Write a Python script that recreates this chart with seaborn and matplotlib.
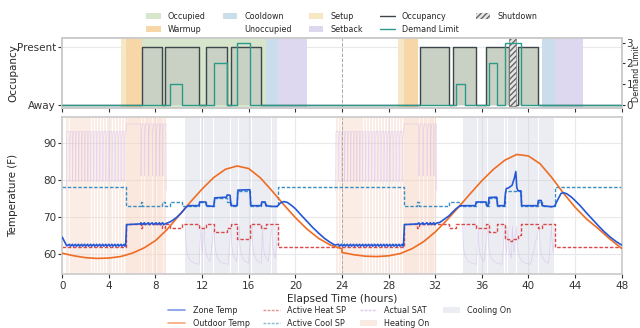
import numpy as np
import pandas as pd
import matplotlib
matplotlib.use("Agg")
import matplotlib.pyplot as plt
import seaborn as sns
from matplotlib.patches import Patch
from matplotlib.lines import Line2D

# ---------------- data ----------------
hour_ticks = [0, 4, 8, 12, 16, 20, 24, 28, 32, 36, 40, 44, 48]
temp_ticks = [60, 70, 80, 90]

outdoor_hours = list(range(0, 25)) + list(range(24, 49))
outdoor_temp = [60.2, 59.5, 59.0, 58.8, 58.9, 59.3, 60.2, 61.6, 63.6, 66.6,
                70.3, 74.0, 77.5, 80.6, 82.8, 83.7, 83.0, 80.5, 77.0, 73.3,
                69.8, 66.7, 64.2, 62.4, 61.4,
                60.4, 59.8, 59.4, 59.3, 59.5, 60.1, 61.4, 63.3, 65.9, 69.1,
                72.6, 76.2, 79.7, 82.8, 85.3, 86.8, 86.4, 84.3, 80.6, 76.4,
                72.6, 69.4, 66.8, 64.0, 61.5]

# heating cycles: times where heating briefly switches off (SAT dips)
heat_dips_1a = [0.62, 0.88, 1.14, 1.40, 1.66, 1.92, 2.18, 2.44, 2.70, 2.96,
                3.22, 3.48, 3.74, 4.00, 4.26, 4.52, 4.78, 5.04, 5.30]
heat_dips_1b = [6.75, 7.05, 7.40, 7.72, 8.05, 8.35, 8.62]
heat_dips_2a = [23.70, 23.96, 24.22, 24.48, 24.74, 25.00, 25.26, 25.52, 25.78,
                26.04, 26.30, 26.56, 26.82, 27.08, 27.34, 27.60, 27.86, 28.12,
                28.38, 28.64, 28.90, 29.16]
heat_dips_2b = [30.60, 30.95, 31.30, 31.60, 31.88]
heat_on_1 = [0.35, 5.46, 8.90]   # start, stage switch, end
heat_on_2 = [23.45, 29.30, 32.10]
heat_gap = 0.07

# cooling cycles
cool_on_1 = [10.55, 18.45]
cool_gaps_1 = [11.80, 12.10, 12.95, 14.40, 15.10, 16.20, 17.10, 17.90]
cool_on_2 = [34.35, 42.20]
cool_gaps_2 = [35.60, 36.45, 37.90, 38.15, 38.55, 38.90, 40.85, 41.90]
cool_gap = 0.08

# supply air temperature levels
sat_heat_top_a, sat_heat_top_b = 93.0, 95.0
sat_heat_low_a, sat_heat_low_b, sat_heat_end = 79.5, 81.0, 77.0
sat_cool_dt = [0.0, 0.03, 0.08, 0.15, 0.30, 0.50, 0.80, 1.20, 2.00]
sat_cool_val = [67.5, 64.5, 62.0, 60.3, 58.9, 58.0, 57.5, 57.2, 57.0]

# zone temperature (sawtooth levels + breakpoints)
zone_low_a, zone_high_a = 62.1, 62.6
zone_low_b, zone_high_b = 67.9, 68.4
zone_start_t = [0.0, 0.2, 0.38]
zone_start_v = [64.5, 63.3, 62.2]
zone_d1_mid_t = [5.44, 5.52, 6.70]
zone_d1_mid_v = [62.4, 67.9, 68.1]
zone_d1_rest_t = [8.90, 9.3, 9.8, 10.2, 10.6, 10.8, 11.72, 11.8, 12.3, 12.38, 13.0,
                  13.08, 14.1, 14.15, 14.4, 14.48, 15.0, 15.08, 16.1, 16.18, 17.07,
                  17.12, 17.4, 17.48, 18.0, 18.45, 18.7, 19.0, 19.3, 19.7, 20.0,
                  20.4, 21.0, 21.5, 22.0, 22.5, 23.0, 23.4]
zone_d1_rest_v = [68.2, 68.7, 69.8, 71.0, 72.5, 73.0, 73.0, 74.0, 74.0, 73.0, 72.8,
                  75.1, 75.3, 75.9, 75.8, 73.0, 73.0, 77.2, 77.3, 73.0, 73.0,
                  74.0, 74.0, 73.0, 72.8, 72.8, 73.7, 74.1, 73.9, 73.0, 72.2,
                  70.8, 68.8, 67.1, 65.6, 64.2, 63.1, 62.4]
zone_d2_mid_t = [29.28, 29.36, 30.50]
zone_d2_mid_v = [62.4, 67.9, 68.1]
zone_d2_rest_t = [32.10, 32.4, 32.8, 33.2, 33.5, 33.8, 34.1, 34.3, 35.45, 35.52,
                  36.35, 36.42, 36.55, 36.62, 37.28, 37.35, 37.95, 38.02, 38.1,
                  38.3, 38.6, 38.8, 38.92, 39.0, 39.1, 39.35, 39.42, 40.8, 40.85,
                  41.1, 41.18, 42.0, 42.25, 42.5, 42.8, 43.0, 43.3, 43.7, 44.0,
                  44.5, 45.0, 45.5, 46.0, 46.5, 47.0, 47.5, 48.0]
zone_d2_rest_v = [68.3, 68.5, 69.4, 70.3, 71.3, 72.2, 72.9, 73.0, 73.0, 74.0,
                  74.0, 73.0, 73.0, 75.2, 75.3, 73.0, 73.0, 76.0, 77.6,
                  77.8, 78.5, 80.5, 82.2, 78.0, 77.0, 77.0, 73.0, 73.0, 74.4,
                  74.4, 73.0, 72.7, 72.9, 74.5, 76.3, 76.5, 76.2, 75.3, 74.4,
                  72.8, 71.0, 69.3, 67.6, 66.0, 64.6, 63.4, 62.4]

heat_sp_t = [0, 5.46, 6.75, 6.86, 8.57, 8.85, 9.27, 10.24, 11.72, 12.35, 13.04,
             14.1, 14.45, 15.03, 16.12, 17.07, 17.5, 18.5, 29.3, 30.45, 30.65,
             33.17, 33.75, 35.5, 36.4, 36.59, 37.28, 37.96, 38.3, 38.6, 39.08,
             39.36, 40.8, 41.2, 42.25, 48]
heat_sp_v = [62, 68, 67, 68, 67, 68, 67, 68, 67, 68, 66,
             67, 68, 64, 68, 67, 68, 62, 68, 67, 68,
             67, 68, 67, 68, 66, 68, 64, 63.5, 64, 65,
             68, 67, 68, 62, 62]
cool_sp_t = [0, 5.46, 6.75, 6.86, 8.57, 8.85, 9.27, 10.24, 11.72, 12.35, 13.04,
             14.1, 14.45, 15.03, 16.12, 17.07, 17.5, 18.5, 29.3, 30.45, 30.65,
             33.17, 34.1, 35.5, 36.4, 36.59, 37.28, 37.96, 39.36, 40.8, 41.2,
             42.25, 48]
cool_sp_v = [78, 73, 74, 73, 74, 73, 74, 73, 74, 73, 75,
             74, 73, 77, 73, 74, 73, 78, 73, 74, 73,
             74, 73, 74, 73, 75, 73, 77, 73, 74, 73,
             78, 78]

# top panel
mode_names = ['Occupied', 'Warmup', 'Cooldown', 'Unoccupied', 'Setup', 'Setback']
mode_colors = ['#d6e5cb', '#f7d6a8', '#c9deea', '#ffffff', '#f6e7c6', '#ddd7f0']
mode_start = [0, 5.03, 5.50, 6.85, 17.50, 18.50, 21.00, 28.77, 29.30, 30.50, 41.20, 42.25, 44.70]
mode_end = [5.03, 5.50, 6.85, 17.50, 18.50, 21.00, 28.77, 29.30, 30.50, 41.20, 42.25, 44.70, 48]
mode_seq = ['Unoccupied', 'Setup', 'Warmup', 'Occupied', 'Cooldown', 'Setback', 'Unoccupied',
            'Setup', 'Warmup', 'Unoccupied', 'Cooldown', 'Setback', 'Unoccupied']
occ_t = [0, 6.86, 8.57, 8.85, 11.72, 12.35, 14.10, 14.45, 17.07, 30.68, 33.17, 33.56,
         35.50, 36.38, 38.30, 39.10, 40.84, 48]
occ_v = [0, 1, 0, 1, 0, 1, 0, 1, 0, 1, 0, 1, 0, 1, 0, 1, 0, 0]
occ_labels = ['Away', 'Present']
dl_t = [0, 9.27, 10.24, 13.04, 14.16, 15.03, 16.12, 33.79, 34.56, 36.59, 37.28, 37.96, 39.36, 48]
dl_v = [0, 1, 0, 2, 0, 3, 0, 1, 0, 2, 0, 3, 0, 0]
dl_ticks = [0, 1, 2, 3]
shutdown = [38.35, 38.95]

# ---------------- build series ----------------
def on_intervals(start, end, gaps, gw):
    iv = []
    s = start
    for g in gaps:
        iv.append((s, g))
        s = g + gw
    iv.append((s, end))
    return iv

zone_t = list(zone_start_t); zone_v = list(zone_start_v)
for g in heat_dips_1a:
    zone_t += [g, g + 0.08]; zone_v += [zone_high_a, zone_low_a]
zone_t += zone_d1_mid_t; zone_v += zone_d1_mid_v
for g in heat_dips_1b:
    zone_t += [g, g + 0.08]; zone_v += [zone_high_b, zone_low_b]
zone_t += zone_d1_rest_t; zone_v += zone_d1_rest_v
for g in heat_dips_2a:
    zone_t += [g, g + 0.08]; zone_v += [zone_high_a, zone_low_a]
zone_t += zone_d2_mid_t; zone_v += zone_d2_mid_v
for g in heat_dips_2b:
    zone_t += [g, g + 0.08]; zone_v += [zone_high_b, zone_low_b]
zone_t += zone_d2_rest_t; zone_v += zone_d2_rest_v

sat_t, sat_v = [], []
def heat_sat(on, dips_a, dips_b):
    s, sw, e = on
    sat_t.extend([s, s + 0.03]); sat_v.extend([sat_heat_end, sat_heat_top_a])
    for g in dips_a:
        sat_t.extend([g, g + 0.015, g + 0.04, g + 0.11])
        sat_v.extend([sat_heat_top_a, sat_heat_low_a, sat_heat_top_a - 2, sat_heat_top_a])
    sat_t.extend([sw, sw + 0.05]); sat_v.extend([sat_heat_top_a, sat_heat_top_b])
    for g in dips_b:
        sat_t.extend([g, g + 0.015, g + 0.04, g + 0.11])
        sat_v.extend([sat_heat_top_b, sat_heat_low_b, sat_heat_top_b - 2, sat_heat_top_b])
    sat_t.extend([e, e + 0.03, np.nan]); sat_v.extend([sat_heat_top_b, sat_heat_end, np.nan])

def cool_sat(intervals):
    for s, e in intervals:
        for dt, v in zip(sat_cool_dt, sat_cool_val):
            if s + dt < e:
                sat_t.append(s + dt); sat_v.append(v)
    sat_t.extend([intervals[-1][1] + 0.04, np.nan]); sat_v.extend([66.5, np.nan])

heat_iv = (on_intervals(heat_on_1[0], heat_on_1[2], heat_dips_1a + heat_dips_1b, heat_gap)
           + on_intervals(heat_on_2[0], heat_on_2[2], heat_dips_2a + heat_dips_2b, heat_gap))
cool_iv_1 = on_intervals(cool_on_1[0], cool_on_1[1], cool_gaps_1, cool_gap)
cool_iv_2 = on_intervals(cool_on_2[0], cool_on_2[1], cool_gaps_2, cool_gap)

heat_sat(heat_on_1, heat_dips_1a, heat_dips_1b)
cool_sat(cool_iv_1)
heat_sat(heat_on_2, heat_dips_2a, heat_dips_2b)
cool_sat(cool_iv_2)

df_out = pd.DataFrame({'t': outdoor_hours, 'v': outdoor_temp})
df_zone = pd.DataFrame({'t': zone_t, 'v': zone_v})

# ---------------- style ----------------
sns.set_theme(style="whitegrid", rc={
    'axes.edgecolor': '#cccccc', 'grid.color': '#e9e9e9', 'grid.linewidth': 0.8,
    'xtick.bottom': True, 'ytick.left': True, 'xtick.major.size': 3, 'ytick.major.size': 3,
    'xtick.major.width': 0.8, 'ytick.major.width': 0.8,
    'xtick.major.pad': 2, 'ytick.major.pad': 1.5,
    'xtick.color': '#333333', 'ytick.color': '#333333',
    'xtick.labelsize': 7.5, 'ytick.labelsize': 7.5, 'axes.labelsize': 7.5,
})
plt.rcParams['font.family'] = ['DejaVu Sans']

c_zone = '#2457d6'
c_out = '#f06c22'
c_heat = '#d9484a'
c_cool = '#3a8ec4'
c_sat = '#c9a3e6'
c_heat_on = '#f6d3c0'
c_cool_on = '#c7cddd'
c_occ_line = '#3d464b'
c_occ_fill = '#c8d1c3'
c_dl = '#2a9a8a'

fig = plt.figure(figsize=(6.4, 3.28), dpi=100)
ax_top = fig.add_axes([0.0973, 0.6698, 0.874, 0.2134])
ax = fig.add_axes([0.0973, 0.1646, 0.874, 0.4777])

# ---- top panel ----
cmap = dict(zip(mode_names, mode_colors))
for s, e, m in zip(mode_start, mode_end, mode_seq):
    if m != 'Unoccupied':
        ax_top.axvspan(s, e, color=cmap[m], lw=0, zorder=0.6)
ax_top.fill_between(occ_t, occ_v, step='post', color=c_occ_fill, lw=0, zorder=1)
ax_top.step(occ_t, occ_v, where='post', color=c_occ_line, lw=1.0, zorder=2)
ax_top.axvline(24, color='#aaaaaa', ls='--', lw=0.7, zorder=1.5)
ax_top.set_xlim(0, 48)
ax_top.set_ylim(-0.05, 1.14)
ax_top.set_yticks([0, 1])
ax_top.set_yticklabels(occ_labels)
ax_top.set_xticks(hour_ticks)
ax_top.set_xticklabels([])
ax_top.grid(False, axis='x')
ax_top.set_ylabel('Occupancy')
ax_top.set_axisbelow(True)

ax_dl = ax_top.twinx()
ax_dl.step(dl_t, dl_v, where='post', color=c_dl, lw=1.0, zorder=3)
ax_dl.axvspan(shutdown[0], shutdown[1], ymin=0.04, ymax=1.0, facecolor='#e4e4e4',
              edgecolor='#666666', hatch='//////', lw=0.4, zorder=2)
ax_dl.set_ylim(-0.14, 3.2)
ax_dl.set_yticks(dl_ticks)
ax_dl.grid(False)
ax_dl.set_ylabel('Demand Limit', fontsize=5.8)
ax_dl.tick_params(axis='y', right=True, length=2.5, pad=1, labelsize=7.5)
ax_dl.yaxis.set_label_coords(1.0 + (632.5 - 621.7) / 559.4, 0.5)
for sp in ax_dl.spines.values():
    sp.set_color('#cccccc')

# ---- bottom panel ----
for s, e in heat_iv:
    ax.axvspan(s, e, color=c_heat_on, alpha=0.4, lw=0, zorder=0.6)
for s, e in [(heat_on_1[1], heat_on_1[2]), (heat_on_2[1], heat_on_2[2])]:
    ax.axvspan(s, e, color=c_heat_on, alpha=0.2, lw=0, zorder=0.6)
for s, e in cool_iv_1 + cool_iv_2:
    ax.axvspan(s, e, color=c_cool_on, alpha=0.35, lw=0, zorder=0.6)

ax.plot(sat_t, sat_v, color=c_sat, lw=0.5, alpha=0.4, zorder=1.5)
ax.step(heat_sp_t, heat_sp_v, where='post', color=c_heat, lw=1.0, ls=(0, (2.5, 1.3)), zorder=2)
ax.step(cool_sp_t, cool_sp_v, where='post', color=c_cool, lw=1.0, ls=(0, (2.5, 1.3)), zorder=2)
sns.lineplot(data=df_out, x='t', y='v', ax=ax, color=c_out, lw=1.2, estimator=None, sort=False, zorder=3)
sns.lineplot(data=df_zone, x='t', y='v', ax=ax, color=c_zone, lw=1.2, estimator=None, sort=False, zorder=4)
ax.axvline(24, color='#aaaaaa', ls='--', lw=0.7, zorder=1.6)

ax.set_xlim(0, 48)
ax.set_ylim(54.6, 96.8)
ax.set_xticks(hour_ticks)
ax.set_yticks(temp_ticks)
ax.set_xlabel('Elapsed Time (hours)', labelpad=2)
ax.set_ylabel('Temperature (F)')
ax.set_axisbelow(True)

lab_x = (18.0 - 62.3) / 559.4
ax_top.yaxis.set_label_coords(lab_x, 0.5)
ax.yaxis.set_label_coords(lab_x, 0.5)

# ---- legends ----
top_handles = [Patch(facecolor=cmap[m], edgecolor='none') for m in mode_names]
top_handles += [Line2D([], [], color=c_occ_line, lw=1.0), Line2D([], [], color=c_dl, lw=1.0),
                Patch(facecolor='#e4e4e4', edgecolor='#666666', hatch='//////', lw=0)]
top_labels = mode_names + ['Occupancy', 'Demand Limit', 'Shutdown']
fig.legend(top_handles, top_labels, loc='center', bbox_to_anchor=(0.534, 0.931), ncol=5,
           frameon=False, fontsize=5.8, handlelength=1.8, handleheight=0.8,
           handletextpad=0.9, columnspacing=2.1, labelspacing=0.5)

bot_handles = [Line2D([], [], color=c_zone, lw=1.2, alpha=0.6),
               Line2D([], [], color=c_out, lw=1.2, alpha=0.6),
               Line2D([], [], color=c_heat, lw=1.0, ls=(0, (2, 1)), alpha=0.6),
               Line2D([], [], color=c_cool, lw=1.0, ls=(0, (2, 1)), alpha=0.6),
               Line2D([], [], color=c_sat, lw=1.0, ls=(0, (2, 1)), alpha=0.6),
               Patch(facecolor=c_heat_on, alpha=0.45, edgecolor='none'),
               Patch(facecolor=c_cool_on, alpha=0.35, edgecolor='none')]
bot_labels = ['Zone Temp', 'Outdoor Temp', 'Active Heat SP', 'Active Cool SP',
              'Actual SAT', 'Heating On', 'Cooling On']
fig.legend(bot_handles, bot_labels, loc='center', bbox_to_anchor=(0.531, 0.034), ncol=4,
           frameon=False, fontsize=5.8, handlelength=2.1, handleheight=0.8,
           handletextpad=0.9, columnspacing=1.7, labelspacing=0.5)

fig.savefig('out.png', dpi=100)
